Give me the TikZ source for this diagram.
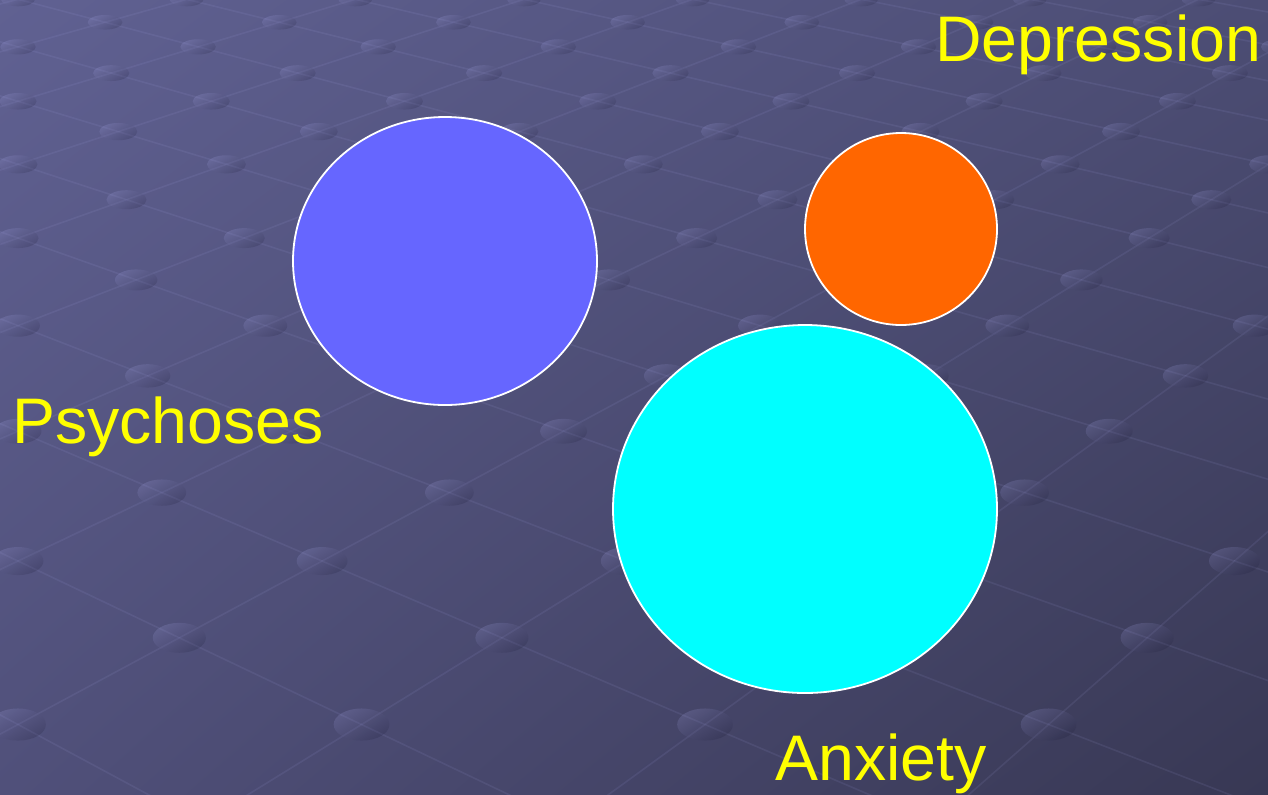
\documentclass[tikz,border=0pt]{standalone}
\usepackage{fontspec}
\setmainfont{Liberation Sans}
\usetikzlibrary{shapes.geometric,shadings}

\definecolor{bgul}{RGB}{96,97,146}
\definecolor{bgur}{RGB}{76,77,116}
\definecolor{bgll}{RGB}{80,80,122}
\definecolor{bglr}{RGB}{56,56,84}
\definecolor{knoblight}{RGB}{170,170,235}
\definecolor{knobdark}{RGB}{20,20,45}
\definecolor{psyblue}{HTML}{6666FF}
\definecolor{deporange}{HTML}{FF6600}
\definecolor{anxcyan}{HTML}{00FFFF}
\definecolor{labyellow}{HTML}{FFFF00}

\begin{document}
\begin{tikzpicture}[x=0.5pt, y=-0.5pt,
  bubble/.style={ellipse, draw=white, line width=0.9pt, inner sep=0pt, outer sep=0pt},
  lab/.style={text=labyellow, font=\fontsize{32.2}{38}\selectfont, inner sep=0pt, anchor=base west},
  gridline/.style={draw=knoblight, draw opacity=0.1, line width=0.8pt},
  knob/.style={top color=knoblight, bottom color=knobdark, shading angle=30, fill opacity=0.19}
]
\useasboundingbox (0,0) rectangle (1268,794);
\shade[upper left=bgul, upper right=bgur, lower left=bgll, lower right=bglr] (0,0) rectangle (1268,794);

% floor grid in perspective
\begin{scope}
\clip (0,0) rectangle (1268,794);
\foreach \n in {-3,...,15} {
  \foreach \k in {-2,...,8} {
    \pgfmathtruncatemacro\m{2*\k+mod(\n+4,2)}
    \pgfmathsetmacro\w{13.39-0.455*\n}
    \pgfmathsetmacro\v{\w-0.455}
    \pgfmathsetmacro\px{18+\m*(1205.75/\w)}
    \pgfmathsetmacro\py{10000/\w-700}
    \pgfmathsetmacro\qy{10000/\v-700}
    \pgfmathsetmacro\qa{18+(\m-1)*(1205.75/\v)}
    \pgfmathsetmacro\qb{18+(\m+1)*(1205.75/\v)}
    \draw[gridline] (\qa,\qy) -- (\px,\py) -- (\qb,\qy);
  }
}
\foreach \n in {-3,...,15} {
  \foreach \k in {-2,...,8} {
    \pgfmathtruncatemacro\m{2*\k+mod(\n+4,2)}
    \pgfmathsetmacro\w{13.39-0.455*\n}
    \pgfmathsetmacro\px{18+\m*(1205.75/\w)}
    \pgfmathsetmacro\py{10000/\w-700}
    \pgfmathsetmacro\rx{0.5*(17+0.015*\py)}
    \pgfmathsetmacro\ry{0.5*(7+0.0125*\py)}
    \shade[knob] (\px,\py) ellipse [x radius=\rx pt, y radius=\ry pt];
  }
}
\end{scope}

\node[bubble, fill=psyblue, minimum width=152pt, minimum height=144pt] (psy) at (445,261) {};
\node[bubble, fill=deporange, minimum size=96pt] (dep) at (901,229) {};
\node[bubble, fill=anxcyan, minimum width=192pt, minimum height=184pt] (anx) at (805,509) {};

\node[lab] (deplab) at (935,61) {Depression};
\node[lab] (psylab) at (12,443) {Psychoses};
\node[lab] (anxlab) at (775,780) {Anxiety};
\end{tikzpicture}
\end{document}
